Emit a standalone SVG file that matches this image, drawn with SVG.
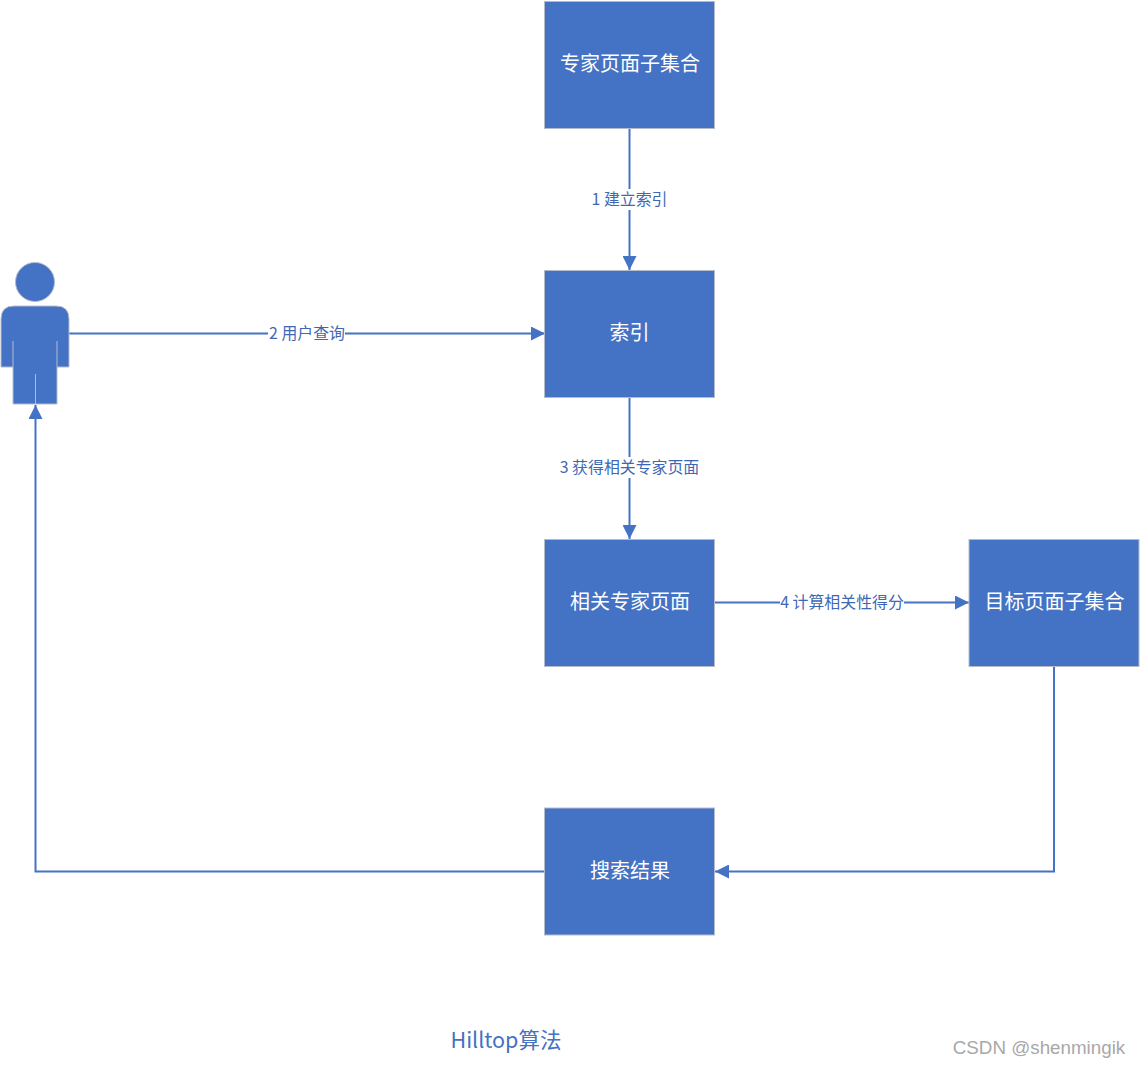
<svg xmlns="http://www.w3.org/2000/svg" width="1140" height="1067" viewBox="0 0 1140 1067">
<style>
text{font-family:"Noto Sans CJK SC","Noto Sans",sans-serif;text-anchor:middle}
.box{fill:#4472c4;stroke:#b4bccb;stroke-width:1}
.t{fill:#fff;font-size:20px}
.l{fill:#3f68b4;font-size:15.900px}
.c{fill:none;stroke:#4472c4;stroke-width:2}
.bg{fill:#fff}
</style>
<defs><marker id="a" markerUnits="userSpaceOnUse" markerWidth="14" markerHeight="14" refX="14" refY="7" orient="auto"><path d="M0 0L14 7L0 14z" fill="#4472c4"/></marker></defs>
<rect width="1140" height="1067" fill="#fff"/>
<g id="connectors">
<path class="c" marker-end="url(#a)" d="M629.500 128V270"/>
<rect class="bg" x="590" y="189" width="79" height="21"/><text class="l" x="629.500" y="205">1 建立索引</text>
<path class="c" marker-end="url(#a)" d="M69 333.500H545"/>
<rect class="bg" x="268" y="323" width="77" height="21"/><text class="l" x="307" y="339">2 用户查询</text>
<path class="c" marker-end="url(#a)" d="M629.500 397V539"/>
<rect class="bg" x="559" y="457" width="141" height="21"/><text class="l" x="629.500" y="473">3 获得相关专家页面</text>
<path class="c" marker-end="url(#a)" d="M714 602.500H969"/>
<rect class="bg" x="780" y="592" width="124" height="21"/><text class="l" x="842" y="608">4 计算相关性得分</text>
<path class="c" marker-end="url(#a)" d="M1054 666V871.500H715"/>
<path class="c" marker-end="url(#a)" d="M545 871.500H35.500V405"/>
</g>
<g id="user"><circle cx="35" cy="282" r="19.500" fill="#4472c4" stroke="#b4bccb"/>
<path class="box" d="M13 367H1V319Q1 306 14 306H56Q69 306 69 319V367H57V404H13Z"/>
<path d="M13 341V367M57 341V367M35.500 374V404" fill="none" stroke="#b4bccb"/></g>
<g id="expert-subset"><rect class="box" x="544.500" y="1.500" width="170" height="127"/><text class="t" x="630" y="71">专家页面子集合</text></g>
<g id="index"><rect class="box" x="544.500" y="270.500" width="170" height="127"/><text class="t" x="629.500" y="340">索引</text></g>
<g id="related-expert"><rect class="box" x="544.500" y="539.500" width="170" height="127"/><text class="t" x="630" y="609">相关专家页面</text></g>
<g id="target-subset"><rect class="box" x="969" y="539.500" width="170" height="127"/><text class="t" x="1054.500" y="609">目标页面子集合</text></g>
<g id="results"><rect class="box" x="544.500" y="808" width="170" height="127"/><text class="t" x="630" y="878">搜索结果</text></g>
<text x="506" y="1048" font-size="21.500" fill="#4472c4">Hilltop算法</text>
<text x="1039" y="1054" style="font-family:'Liberation Sans',sans-serif" font-size="18.800" fill="#a8a8a8">CSDN @shenmingik</text>
</svg>
